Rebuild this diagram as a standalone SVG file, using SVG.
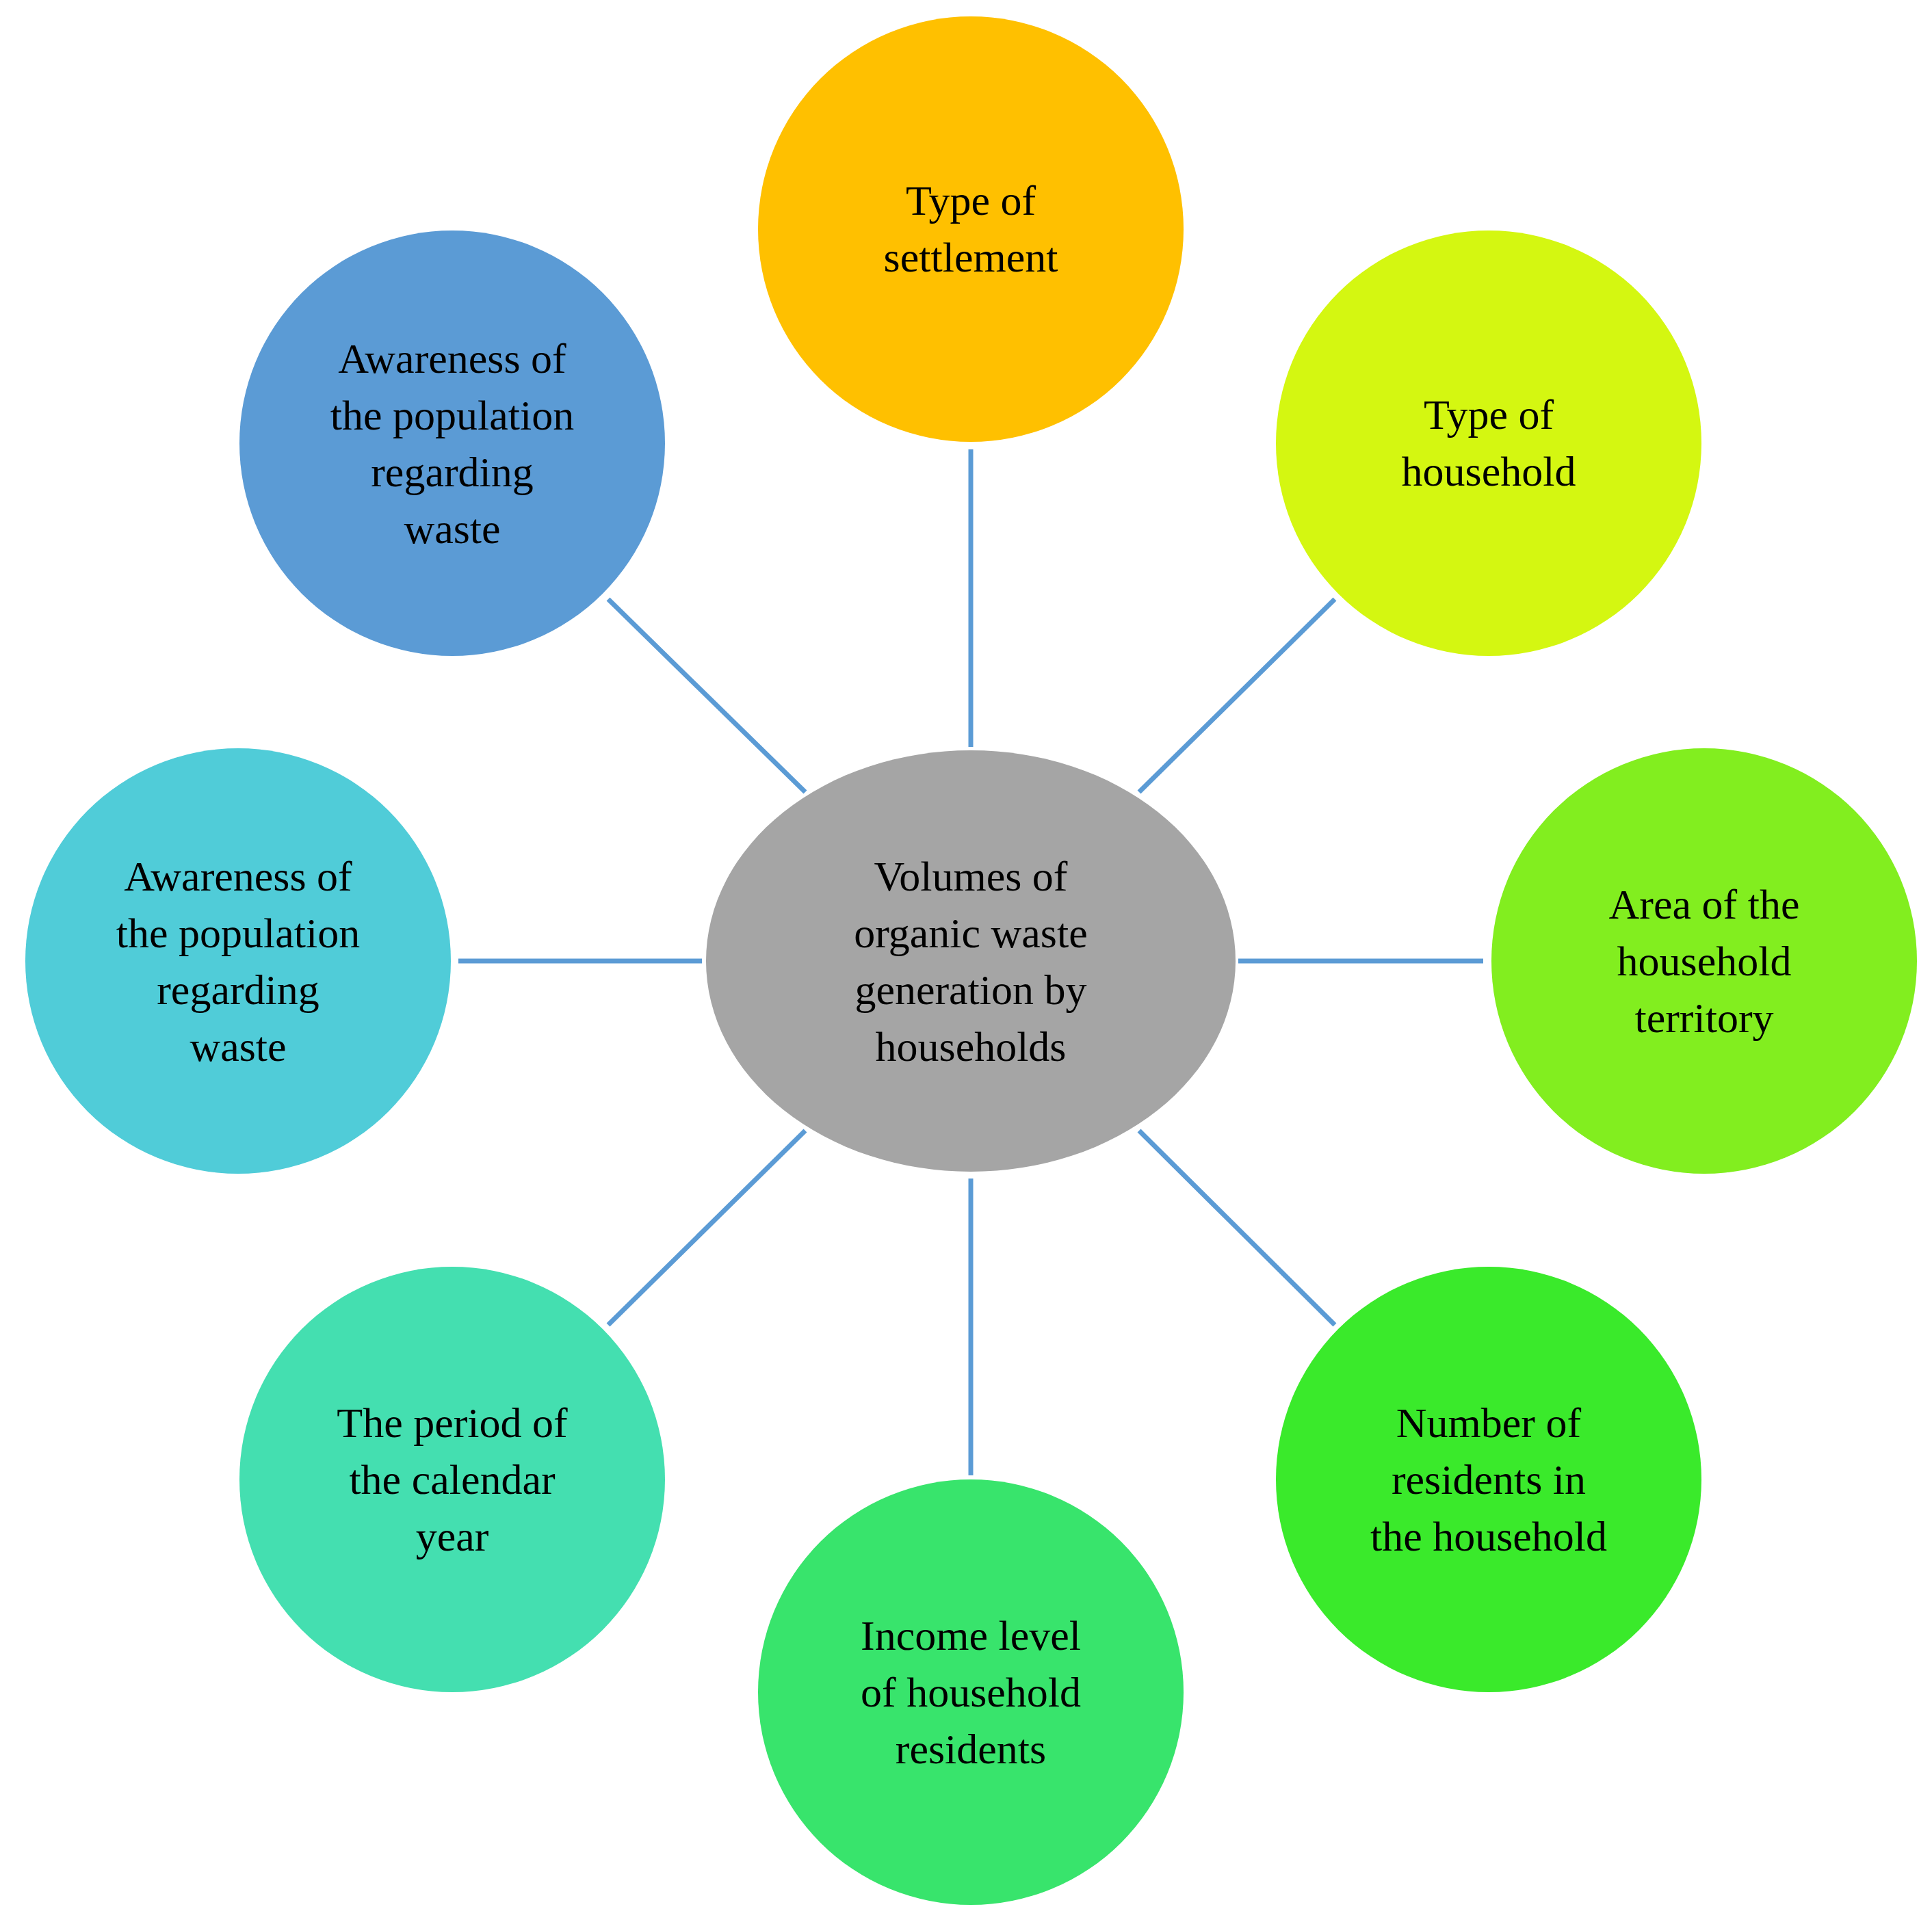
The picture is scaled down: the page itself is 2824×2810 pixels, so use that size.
<svg xmlns="http://www.w3.org/2000/svg" width="2824" height="2810" viewBox="0 0 2824 2810">
<style>
text{font-family:"Liberation Serif","DejaVu Serif",serif;font-size:62px;fill:#000;text-anchor:middle;dominant-baseline:central}
.c line{stroke:#5b9bd5;stroke-width:7}
</style>
<rect width="2824" height="2810" fill="#fff"/>
<g class="c" id="connectors">
<line x1="1419" y1="657" x2="1419" y2="1092"/>
<line x1="1665" y1="1158" x2="1951" y2="876"/>
<line x1="1810" y1="1405" x2="2168" y2="1405"/>
<line x1="1665" y1="1653" x2="1951" y2="1937"/>
<line x1="1419" y1="1723" x2="1419" y2="2157"/>
<line x1="1177" y1="1653" x2="889" y2="1937"/>
<line x1="670" y1="1405" x2="1026" y2="1405"/>
<line x1="1177" y1="1158" x2="889" y2="876"/>
</g>
<g id="center"><ellipse cx="1419" cy="1405" rx="387" ry="308" fill="#a5a5a5"/>
<text x="1419" y="1405"><tspan x="1419" dy="-124">Volumes of</tspan><tspan x="1419" dy="83">organic waste</tspan><tspan x="1419" dy="83">generation by</tspan><tspan x="1419" dy="83">households</tspan></text></g>
<g id="settlement"><circle cx="1419" cy="335" r="311" fill="#ffc000"/>
<text x="1419" y="335"><tspan x="1419" dy="-42">Type of</tspan><tspan x="1419" dy="83">settlement</tspan></text></g>
<g id="household"><circle cx="2176" cy="648" r="311" fill="#d4f711"/>
<text x="2176" y="648"><tspan x="2176" dy="-42">Type of</tspan><tspan x="2176" dy="83">household</tspan></text></g>
<g id="area"><circle cx="2491" cy="1405" r="311" fill="#82ee1f"/>
<text x="2491" y="1405"><tspan x="2491" dy="-83">Area of the</tspan><tspan x="2491" dy="83">household</tspan><tspan x="2491" dy="83">territory</tspan></text></g>
<g id="residents"><circle cx="2176" cy="2163" r="311" fill="#3aea2b"/>
<text x="2176" y="2163"><tspan x="2176" dy="-83">Number of</tspan><tspan x="2176" dy="83">residents in</tspan><tspan x="2176" dy="83">the household</tspan></text></g>
<g id="income"><circle cx="1419" cy="2474" r="311" fill="#38e46c"/>
<text x="1419" y="2474"><tspan x="1419" dy="-83">Income level</tspan><tspan x="1419" dy="83">of household</tspan><tspan x="1419" dy="83">residents</tspan></text></g>
<g id="period"><circle cx="661" cy="2163" r="311" fill="#44dfb0"/>
<text x="661" y="2163"><tspan x="661" dy="-83">The period of</tspan><tspan x="661" dy="83">the calendar</tspan><tspan x="661" dy="83">year</tspan></text></g>
<g id="awareness1"><circle cx="348" cy="1405" r="311" fill="#50ccd8"/>
<text x="348" y="1405"><tspan x="348" dy="-124">Awareness of</tspan><tspan x="348" dy="83">the population</tspan><tspan x="348" dy="83">regarding</tspan><tspan x="348" dy="83">waste</tspan></text></g>
<g id="awareness2"><circle cx="661" cy="648" r="311" fill="#5b9bd5"/>
<text x="661" y="648"><tspan x="661" dy="-124">Awareness of</tspan><tspan x="661" dy="83">the population</tspan><tspan x="661" dy="83">regarding</tspan><tspan x="661" dy="83">waste</tspan></text></g>
</svg>
